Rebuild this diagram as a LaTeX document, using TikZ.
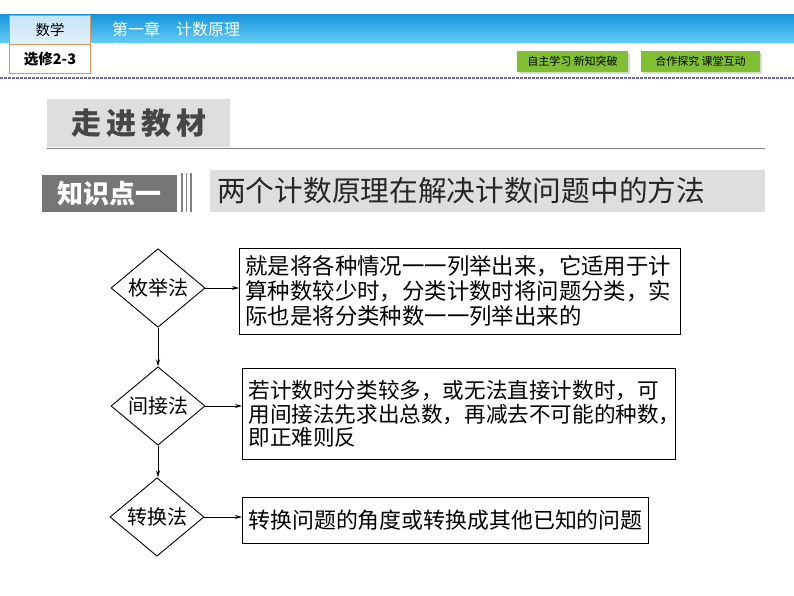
\documentclass[tikz,border=0pt]{standalone}
\usepackage{fontspec}
\setmainfont{Noto Sans CJK SC}
\usetikzlibrary{shapes.geometric,arrows.meta,shadows}
\definecolor{barA}{RGB}{25,150,220}
\definecolor{barB}{RGB}{100,205,245}
\definecolor{hdrA}{RGB}{200,228,248}
\definecolor{hdrB}{RGB}{225,242,252}
\definecolor{orangeb}{RGB}{215,150,90}
\definecolor{dashc}{RGB}{110,100,180}
\definecolor{btn}{RGB}{128,190,50}
\definecolor{lgray}{RGB}{222,222,222}
\definecolor{dgray}{RGB}{118,118,118}
\definecolor{tgray}{RGB}{70,70,70}
\tikzset{
  hdrbox/.style={draw=orangeb,line width=1pt,minimum width=81pt,minimum height=29pt,inner sep=0pt,font=\fontsize{14.5}{16}\selectfont},
  btnbox/.style={fill=btn,minimum height=21pt,inner sep=0pt,font=\fontsize{11}{13}\selectfont,drop shadow={shadow xshift=2pt,shadow yshift=-2pt,fill=gray!60}},
  dia/.style={draw,diamond,line width=0.9pt,minimum width=94pt,minimum height=64pt,inner sep=0pt,font=\fontsize{20}{22}\selectfont},
  txtbox/.style={draw,line width=0.9pt,align=left,inner xsep=6pt,inner ysep=0pt},
  arr/.style={-{Stealth[length=7pt,width=4pt]},line width=0.9pt},
}
\begin{document}
\begin{tikzpicture}[x=1pt,y=-1pt]
\useasboundingbox (0,0) rectangle (794,596);
\fill[white] (0,0) rectangle (794,596);
% header bar
\shade[top color=barA,bottom color=barB] (0,15) rectangle (794,43);
\node[hdrbox,top color=hdrA,bottom color=hdrB,anchor=north west] (sx) at (9,15) {数学};
\node[hdrbox,fill=white,anchor=north west] (xx) at (9,44) {\bfseries 选修2-3};
\node[anchor=west,text=white,font=\fontsize{16}{18}\selectfont,inner sep=0pt] (ch) at (112,29) {第一章\quad 计数原理};
\node[btnbox,minimum width=111pt] (b1) at (572.5,61.5) {自主学习\ 新知突破};
\node[btnbox,minimum width=119pt] (b2) at (700.5,61.5) {合作探究\ 课堂互动};
\draw[dashc,dashed,dash pattern=on 2.5pt off 1.5pt,line width=1.2pt] (0,78) -- (794,78);
% section title
\node[fill=lgray,anchor=north west,minimum width=183pt,minimum height=48pt,inner sep=0pt] (zj) at (47,99) {};
\node[text=tgray,font=\bfseries\fontsize{30}{32}\selectfont,inner sep=0pt] (zjt) at (zj.center) {走\hspace{5pt}进\hspace{5pt}教\hspace{5pt}材};
\draw[gray,line width=1.6pt] (47,148.5) -- (765,148.5);
% knowledge point
\node[fill=dgray,anchor=north west,minimum width=135pt,minimum height=37pt,inner sep=0pt,text=white,font=\bfseries\fontsize{26}{28}\selectfont] (zs) at (42,175) {知识点一};
\foreach \xx in {182,186.5,191}{\draw[gray,line width=1.2pt] (\xx,173) -- (\xx,212);}
\node[fill=lgray,anchor=north west,minimum width=555pt,minimum height=42pt,inner sep=0pt] (tt) at (210,170) {};
\node[anchor=west,inner sep=0pt,text=black!85,font=\fontsize{28.7}{30}\selectfont] (ttt) at (217,191) {两个计数原理在解决计数问题中的方法};
% flowchart
\node[dia] (d1) at (158,288) {枚举法};
\node[dia] (d2) at (158,406) {间接法};
\node[dia] (d3) at (157,517) {转换法};
\node[txtbox,anchor=north west,text width=429pt,minimum height=86pt,font=\fontsize{22.4}{25}\selectfont] (t1) at (239,248)
 {就是将各种情况一一列举出来，它适用于计\\算种数较少时，分类计数时将问题分类，实\\际也是将分类种数一一列举出来的};
\node[txtbox,anchor=north west,text width=421pt,minimum height=91pt,font=\fontsize{21.6}{23.5}\selectfont] (t2) at (242,368)
 {若计数时分类较多，或无法直接计数时，可\\用间接法先求出总数，再减去不可能的种数，\\即正难则反};
\node[txtbox,anchor=north west,minimum height=46pt,font=\fontsize{21.9}{24}\selectfont] (t3) at (242,497)
 {转换问题的角度或转换成其他已知的问题};
\draw[arr] (d1.east) -- (d1.east -| t1.west);
\draw[arr] (d2.east) -- (d2.east -| t2.west);
\draw[arr] (d3.east) -- (d3.east -| t3.west);
\draw[arr] (d1.south) -- (d2.north);
\draw[arr] (d2.south) -- (d2.south |- d3.north);
\end{tikzpicture}
\end{document}
